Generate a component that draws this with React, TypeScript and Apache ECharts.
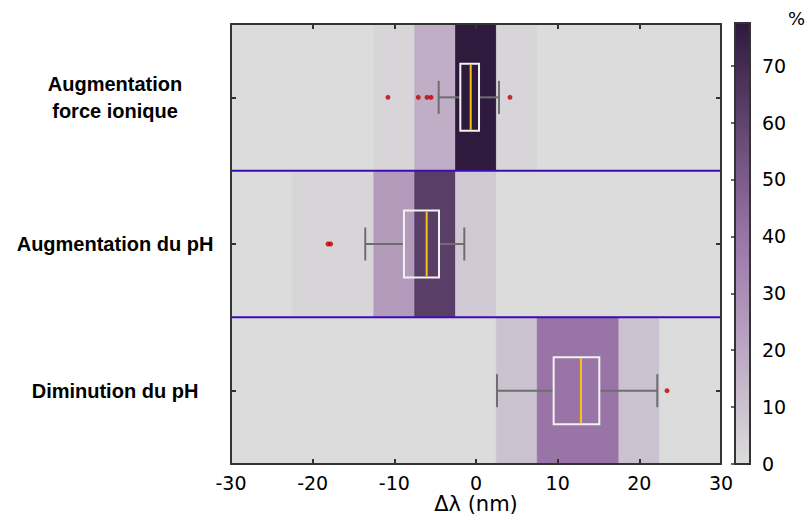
import React, { useEffect, useRef } from "react";
import * as echarts from "echarts";

const categories = ["Augmentation\nforce ionique", "Augmentation du pH", "Diminution du pH"];
const binCenters = [-30, -25, -20, -15, -10, -5, 0, 5, 10, 15, 20, 25, 30];
const binWidth = 5;
// percentage of samples per bin, one array per row
const freqForceIonique = [0, 0, 0, 0, 2.5, 17.5, 77.5, 2.5, 0, 0, 0, 0, 0];
const freqPhUp = [0, 0, 2.5, 2.5, 25, 62.5, 7.5, 0, 0, 0, 0, 0, 0];
const freqPhDown = [0, 0, 0, 0, 0, 0, 0, 10, 40, 40, 10, 0, 0];
const freqRows = [freqForceIonique, freqPhUp, freqPhDown];

// box stats: [low whisker, q1, median, q3, high whisker]
const boxForceIonique = [-4.57, -1.92, -0.65, 0.37, 2.82];
const boxPhUp = [-13.56, -8.82, -6.04, -4.53, -1.43];
const boxPhDown = [2.57, 9.51, 12.86, 15.1, 22.2];
const boxRows = [boxForceIonique, boxPhUp, boxPhDown];

const outForceIonique = [-10.78, -7.07, -6.0, -5.51, 4.16];
const outPhUp = [-18.12, -17.8];
const outPhDown = [23.39];
const outRows = [outForceIonique, outPhUp, outPhDown];

const xTicks = { min: -30, max: 30, interval: 10 };
const colorMax = 77.5;
const colorTicks = { min: 0, interval: 10 };
const palette = ["#dcdcdc", "#9c77ab", "#2e1a3d"];

const FONT = "DejaVu Sans";
const LABEL_FONT = "Liberation Sans";

export default function App() {
  const ref = useRef<HTMLDivElement>(null);
  useEffect(() => {
    document.body.style.margin = "0";
    if (!ref.current) return;
    const chart = echarts.init(ref.current, null, { renderer: "svg" });

    const heatData: number[][] = [];
    freqRows.forEach((row, r) => row.forEach((v, i) => heatData.push([binCenters[i], r, v])));
    const boxData = boxRows.map((b, r) => [r, ...b]);
    const outData: number[][] = [];
    outRows.forEach((row, r) => row.forEach((x) => outData.push([x, r])));

    const axisLine = { show: true, onZero: false, lineStyle: { color: "#333", width: 2 } };
    const axisTick = { show: true, inside: true, length: 5, lineStyle: { color: "#333", width: 2 } };

    const option: any = {
      animation: false,
      backgroundColor: "#fff",
      textStyle: { fontFamily: FONT },
      grid: [
        { left: 231, top: 24, width: 490, height: 440, outerBoundsMode: "none", containLabel: false },
        { left: 735, top: 23, width: 15, height: 441, outerBoundsMode: "none", containLabel: false },
      ],
      xAxis: [
        {
          type: "value", gridIndex: 0, ...xTicks, position: "bottom",
          name: "Δλ (nm)", nameLocation: "middle", nameGap: 29, nameMoveOverlap: false,
          nameTextStyle: { fontSize: 21, color: "#000", fontFamily: FONT, lineHeight: 22 },
          axisLine, axisTick,
          axisLabel: { fontSize: 19, color: "#000", margin: 9, fontFamily: FONT },
          splitLine: { show: false }, z: 5,
        },
        {
          type: "value", gridIndex: 0, ...xTicks, position: "top",
          axisLine, axisTick, axisLabel: { show: false }, splitLine: { show: false }, z: 5,
        },
        { type: "value", gridIndex: 1, min: 0, max: 1, show: false },
      ],
      yAxis: [
        {
          type: "category", gridIndex: 0, data: categories, inverse: true, position: "left",
          axisLine, axisTick: { ...axisTick, alignWithLabel: true },
          axisLabel: { fontSize: 20, fontWeight: "bold", color: "#000", align: "center", margin: 116, lineHeight: 27, fontFamily: LABEL_FONT },
          z: 5,
        },
        {
          type: "category", gridIndex: 0, data: categories, inverse: true, position: "right",
          axisLine, axisTick: { ...axisTick, alignWithLabel: true }, axisLabel: { show: false }, z: 5,
        },
        {
          type: "value", gridIndex: 1, min: colorTicks.min, max: colorMax, interval: colorTicks.interval, position: "right",
          axisLine: { show: true, lineStyle: { color: "#333", width: 2 } },
          axisTick: { show: true, inside: true, length: 4, lineStyle: { color: "#333", width: 1.5 } },
          axisLabel: { fontSize: 19, color: "#000", margin: 12, showMaxLabel: false, fontFamily: FONT },
          splitLine: { show: false }, z: 5,
        },
      ],
      visualMap: {
        show: false, type: "continuous", min: 0, max: colorMax, dimension: 2, seriesIndex: 0,
        inRange: { color: palette },
      },
      graphic: [
        { type: "text", left: 788, top: 9, style: { text: "%", fontSize: 18, fill: "#000", fontFamily: FONT } },
      ],
      series: [
        {
          type: "custom", xAxisIndex: 0, yAxisIndex: 0, data: heatData, encode: { x: 0, y: 1 }, z: 1,
          renderItem: (params: any, api: any) => {
            const x = api.value(0);
            const r = api.value(1);
            const p0 = api.coord([x - binWidth / 2, r]);
            const p1 = api.coord([x + binWidth / 2, r]);
            const h = api.size([0, 1])[1];
            const cs = params.coordSys;
            const x0 = Math.max(p0[0], cs.x);
            const x1 = Math.min(p1[0], cs.x + cs.width);
            const c = api.visual("color");
            return {
              type: "rect",
              shape: { x: x0, y: p0[1] - h / 2, width: x1 - x0, height: h },
              style: { fill: c, stroke: c, lineWidth: 0.8 },
            };
          },
        },
        {
          type: "custom", xAxisIndex: 0, yAxisIndex: 0, data: boxData, encode: { x: [1, 2, 3, 4, 5], y: 0 }, z: 3,
          renderItem: (params: any, api: any) => {
            const r = api.value(0);
            const lo = api.coord([api.value(1), r]);
            const q1 = api.coord([api.value(2), r]);
            const med = api.coord([api.value(3), r]);
            const q3 = api.coord([api.value(4), r]);
            const hi = api.coord([api.value(5), r]);
            const band = api.size([0, 1])[1];
            const cy = lo[1];
            const bh = band * 0.457;
            const ch = band * 0.225;
            const cs = params.coordSys;
            const gray = { stroke: "#6e6e6e", lineWidth: 2 };
            const children: any[] = [
              { type: "line", shape: { x1: lo[0], y1: cy, x2: q1[0], y2: cy }, style: gray },
              { type: "line", shape: { x1: q3[0], y1: cy, x2: hi[0], y2: cy }, style: gray },
              { type: "line", shape: { x1: lo[0], y1: cy - ch / 2, x2: lo[0], y2: cy + ch / 2 }, style: gray },
              { type: "line", shape: { x1: hi[0], y1: cy - ch / 2, x2: hi[0], y2: cy + ch / 2 }, style: gray },
              { type: "rect", shape: { x: q1[0], y: cy - bh / 2, width: q3[0] - q1[0], height: bh }, style: { fill: "none", stroke: "#f2f2f2", lineWidth: 2 } },
              { type: "line", shape: { x1: med[0], y1: cy - bh / 2 + 1, x2: med[0], y2: cy + bh / 2 - 1 }, style: { stroke: "#f7c414", lineWidth: 2 } },
            ];
            if (r > 0) {
              const yb = cy - band / 2;
              children.push({ type: "line", shape: { x1: cs.x, y1: yb, x2: cs.x + cs.width, y2: yb }, style: { stroke: "#3d0db3", lineWidth: 2 } });
            }
            return { type: "group", children };
          },
        },
        {
          type: "scatter", xAxisIndex: 0, yAxisIndex: 0, data: outData, symbol: "circle", symbolSize: 5,
          itemStyle: { color: "#c00000" }, z: 4,
        },
        {
          type: "custom", xAxisIndex: 2, yAxisIndex: 2, data: [[0.5, colorMax / 2]], encode: { x: 0, y: 1 }, z: 1,
          renderItem: (params: any) => {
            const cs = params.coordSys;
            return {
              type: "rect",
              shape: { x: cs.x, y: cs.y, width: cs.width, height: cs.height },
              style: {
                fill: new echarts.graphic.LinearGradient(0, 1, 0, 0, palette.map((c, i) => ({ offset: i / (palette.length - 1), color: c }))),
                stroke: "#333",
                lineWidth: 2,
              },
            };
          },
        },
      ],
    };
    chart.setOption(option);
    return () => chart.dispose();
  }, []);
  return <div ref={ref} style={{ width: 811, height: 517 }} />;
}
